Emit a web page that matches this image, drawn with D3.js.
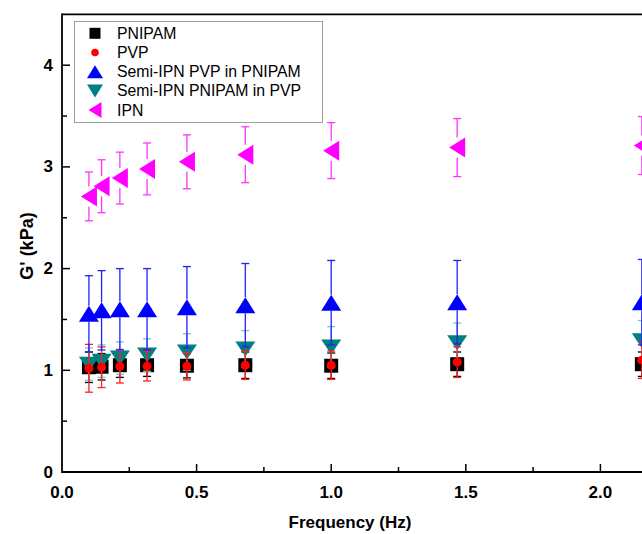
<!DOCTYPE html>
<html><head><meta charset="utf-8">
<script src="https://cdn.jsdelivr.net/npm/d3@7"></script>
<style>body{margin:0;background:#fff}svg{display:block}</style>
</head><body>
<svg id="c" width="642" height="534"></svg>
<script>
const freq = [0.1, 0.147, 0.215, 0.316, 0.464, 0.681, 1.0, 1.468, 2.154];
const pnipam = [1.03, 1.035, 1.05, 1.05, 1.045, 1.05, 1.045, 1.06, 1.06];
const pnipamErr = [0.15, 0.13, 0.12, 0.11, 0.12, 0.13, 0.125, 0.12, 0.12];
const pvp = [1.02, 1.03, 1.04, 1.04, 1.04, 1.05, 1.05, 1.08, 1.10];
const pvpErr = [0.235, 0.2, 0.165, 0.145, 0.135, 0.14, 0.14, 0.15, 0.18];
const semiPvpInPnipam = [1.555, 1.59, 1.60, 1.60, 1.62, 1.64, 1.665, 1.67, 1.67];
const semiPvpInPnipamErr = [0.375, 0.39, 0.40, 0.40, 0.40, 0.41, 0.415, 0.41, 0.42];
const semiPnipamInPvp = [1.06, 1.09, 1.12, 1.15, 1.18, 1.21, 1.23, 1.27, 1.29];
const semiPnipamInPvpErr = [0.16, 0.16, 0.16, 0.16, 0.18, 0.18, 0.20, 0.195, 0.20];
const ipn = [2.71, 2.81, 2.89, 2.98, 3.05, 3.12, 3.16, 3.19, 3.21];
const ipnErr = [0.24, 0.26, 0.255, 0.255, 0.265, 0.275, 0.275, 0.285, 0.285];
const seriesNames = ["PNIPAM", "PVP", "Semi-IPN PVP in PNIPAM", "Semi-IPN PNIPAM in PVP", "IPN"];
const xTicks = [0.0, 0.5, 1.0, 1.5, 2.0];
const yTicks = [0, 1, 2, 3, 4];

const svg = d3.select("#c");
const x = d3.scaleLinear().domain([0, 2.5]).range([62, 735]);
const y = d3.scaleLinear().domain([0, 4.5]).range([472, 14.35]);
const font = "Liberation Sans, Arial, Helvetica, sans-serif";

function shape(type, w, h) {
  const p = d3.path();
  if (type === "square") { p.rect(-w/2, -h/2, w, h); }
  else if (type === "up") { p.moveTo(0, -h/2); p.lineTo(w/2, h/2); p.lineTo(-w/2, h/2); p.closePath(); }
  else if (type === "down") { p.moveTo(0, h/2); p.lineTo(w/2, -h/2); p.lineTo(-w/2, -h/2); p.closePath(); }
  else if (type === "left") { p.moveTo(-w/2, 0); p.lineTo(w/2, -h/2); p.lineTo(w/2, h/2); p.closePath(); }
  return p.toString();
}

const series = [
  {vals: pnipam, err: pnipamErr, color: "#000000", ecolor: "#000000", type: "square", w: 14, h: 14, lw: 11, lh: 11},
  {vals: semiPnipamInPvp, err: semiPnipamInPvpErr, color: "#008080", ecolor: "#7cc4c4", type: "down", w: 20, h: 15, lw: 16, lh: 13},
  {vals: pvp, err: pvpErr, color: "#ff0000", ecolor: "#ff2020", type: "circle", w: 9, h: 9, lw: 7.5, lh: 7.5},
  {vals: semiPvpInPnipam, err: semiPvpInPnipamErr, color: "#0000ff", ecolor: "#2020ff", type: "up", w: 20, h: 16, lw: 16, lh: 13},
  {vals: ipn, err: ipnErr, color: "#ff00ff", ecolor: "#ff33ff", type: "left", w: 16, h: 20, lw: 13, lh: 16}
];

svg.append("defs").append("clipPath").attr("id","pc")
  .append("rect").attr("x", 62).attr("y", 14).attr("width", 700).attr("height", 459);

const plot = svg.append("g").attr("clip-path", "url(#pc)");

series.forEach(s => {
  const g = plot.append("g");
  if (s.type === "circle") {
    g.selectAll("circle").data(freq).join("circle")
      .attr("cx", d => x(d)).attr("cy", (d,i) => y(s.vals[i])).attr("r", s.w/2)
      .attr("fill", s.color);
  } else {
    g.selectAll("path.m").data(freq).join("path").attr("class","m")
      .attr("transform", (d,i) => `translate(${x(d)},${y(s.vals[i])})`)
      .attr("d", shape(s.type, s.w, s.h)).attr("fill", s.color);
  }
  const eb = g.selectAll("g.eb").data(freq).join("g").attr("class","eb")
    .attr("stroke", s.ecolor).attr("stroke-width", 1.3).attr("fill","none");
  eb.append("line").attr("x1", d => x(d)).attr("x2", d => x(d))
    .attr("y1", (d,i) => y(s.vals[i] + s.err[i]))
    .attr("y2", (d,i) => Math.max(y(s.vals[i] + s.err[i]), y(s.vals[i]) - s.h/2));
  eb.append("line").attr("x1", d => x(d)).attr("x2", d => x(d))
    .attr("y1", (d,i) => y(s.vals[i]) + s.h/2)
    .attr("y2", (d,i) => Math.max(y(s.vals[i]) + s.h/2, y(s.vals[i] - s.err[i])));
  eb.append("line").attr("x1", d => x(d) - 4).attr("x2", d => x(d) + 4)
    .attr("y1", (d,i) => y(s.vals[i] + s.err[i])).attr("y2", (d,i) => y(s.vals[i] + s.err[i]));
  eb.append("line").attr("x1", d => x(d) - 4).attr("x2", d => x(d) + 4)
    .attr("y1", (d,i) => y(s.vals[i] - s.err[i])).attr("y2", (d,i) => y(s.vals[i] - s.err[i]));
});

const axisG = svg.append("g").attr("stroke", "#000").attr("stroke-width", 1.8);
axisG.append("line").attr("x1", x(0)).attr("x2", 642).attr("y1", y(0)).attr("y2", y(0));
axisG.append("line").attr("x1", x(0)).attr("x2", 642).attr("y1", y(4.5)).attr("y2", y(4.5));
axisG.append("line").attr("x1", x(0)).attr("x2", x(0)).attr("y1", y(0)+0.9).attr("y2", y(4.5)-0.9);

const xMinor = d3.range(0.25, 2.5, 0.5);
const yMinor = d3.range(0.5, 4.5, 1);
const tk = svg.append("g").attr("stroke", "#000").attr("stroke-width", 1.5);
tk.selectAll("line.xM").data(xTicks.slice(1)).join("line").attr("class","xM")
  .attr("x1", d => x(d)).attr("x2", d => x(d)).attr("y1", y(0)).attr("y2", y(0) - 8);
tk.selectAll("line.xm").data(xMinor).join("line").attr("class","xm")
  .attr("x1", d => x(d)).attr("x2", d => x(d)).attr("y1", y(0)).attr("y2", y(0) - 5);
tk.selectAll("line.yM").data(yTicks.slice(1)).join("line").attr("class","yM")
  .attr("x1", x(0)).attr("x2", x(0) + 8).attr("y1", d => y(d)).attr("y2", d => y(d));
tk.selectAll("line.ym").data(yMinor).join("line").attr("class","ym")
  .attr("x1", x(0)).attr("x2", x(0) + 5).attr("y1", d => y(d)).attr("y2", d => y(d));

svg.append("g").selectAll("text").data(xTicks).join("text")
  .attr("x", d => x(d)).attr("y", 492).attr("text-anchor","middle").attr("dominant-baseline","central")
  .attr("font-family", font).attr("font-weight","bold").attr("font-size", 17)
  .text(d => d.toFixed(1));
svg.append("g").selectAll("text").data(yTicks).join("text")
  .attr("x", 53).attr("y", d => y(d)).attr("text-anchor","end").attr("dominant-baseline","central")
  .attr("font-family", font).attr("font-weight","bold").attr("font-size", 17)
  .text(d => d);

svg.append("text").attr("x", 350).attr("y", 522).attr("text-anchor","middle").attr("dominant-baseline","central")
  .attr("font-family", font).attr("font-weight","bold").attr("font-size", 17).text("Frequency (Hz)");
svg.append("text").attr("transform", "translate(27,246) rotate(-90)").attr("text-anchor","middle").attr("dominant-baseline","central")
  .attr("font-family", font).attr("font-weight","bold").attr("font-size", 18).text("G' (kPa)");

const lg = svg.append("g");
lg.append("rect").attr("x", 74.5).attr("y", 21.5).attr("width", 248).attr("height", 101)
  .attr("fill", "#fff").attr("stroke", "#a0a0a0").attr("stroke-width", 1);
const legendOrder = [0, 2, 3, 1, 4];
legendOrder.forEach((si, row) => {
  const s = series[si];
  const cy = 33.3 + row * 19.2;
  if (s.type === "circle") {
    lg.append("circle").attr("cx", 95).attr("cy", cy).attr("r", s.lw/2).attr("fill", s.color);
  } else {
    lg.append("path").attr("transform", `translate(95,${cy})`).attr("d", shape(s.type, s.lw, s.lh)).attr("fill", s.color);
  }
  lg.append("text").attr("x", 117).attr("y", cy).attr("dominant-baseline","central")
    .attr("font-family", font).attr("font-size", 15.8).text(seriesNames[row]);
});
</script>
</body></html>
